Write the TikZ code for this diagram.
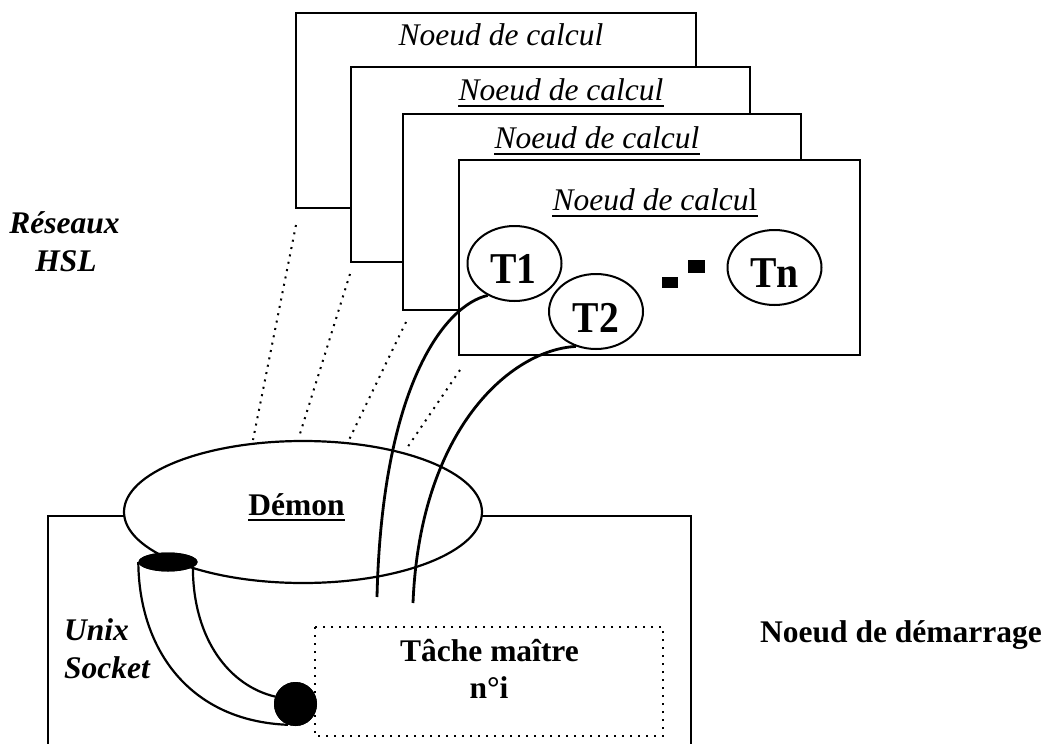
\documentclass[tikz,border=0pt]{standalone}
\usepackage{fontspec}
\setmainfont{Liberation Serif}
\newfontfamily\taskfont[FakeStretch=0.9]{Liberation Serif}
\usetikzlibrary{shapes.geometric}
\begin{document}
\begin{tikzpicture}[x=1pt,y=-1pt,
  frame/.style={draw,line width=2.3pt,fill=white,rectangle,anchor=north west,inner sep=0pt},
  calcfont/.style={anchor=base,inner sep=0pt,font=\fontsize{31.5}{38}\selectfont\itshape},
  lbl/.style={anchor=base,inner sep=0pt,font=\fontsize{31.5}{38}\selectfont\bfseries},
  lblit/.style={anchor=base,inner sep=0pt,font=\fontsize{31.5}{38}\selectfont\bfseries\itshape},
  task/.style={ellipse,draw,line width=2pt,minimum width=94pt,minimum height=75pt,inner sep=0pt,fill=white},
  tasklbl/.style={anchor=base,inner sep=0pt,font=\taskfont\fontsize{44}{48}\selectfont\bfseries},
  ul/.style={line width=2pt},
  hsl/.style={line width=2pt,dash pattern=on 2pt off 5.5pt},
  wire/.style={line width=2.8pt},
  tube/.style={line width=2.2pt},
]
\useasboundingbox[fill=white] (0,0) rectangle (1050,744);

% stacked compute nodes, back to front
\node[frame,minimum width=400pt,minimum height=195pt] (b1) at (295,12) {};
\node[calcfont] (c1) at (501,45) {Noeud de calcul};
\node[frame,minimum width=399pt,minimum height=195pt] (b2) at (350,66) {};
\node[calcfont] (c2) at (561,100) {Noeud de calcul};
\node[frame,minimum width=398pt,minimum height=196pt] (b3) at (402,113) {};
\node[calcfont] (c3) at (597,148) {Noeud de calcul};
\node[frame,minimum width=401pt,minimum height=195pt] (b4) at (458,159) {};
\node[calcfont] (c4) at (655,210) {Noeud de calcu\upshape l};
\foreach \n in {c2,c3,c4}
  \draw[ul] ([yshift=-6pt]\n.base west) -- ([yshift=-6pt]\n.base east);

% tasks of the front node
\node[task] (t1) at (514.5,263.5) {};
\node[tasklbl] (t1l) at (513.5,283) {T1};
\node[task] (t2) at (596,311.5) {};
\node[tasklbl] (t2l) at (596,332) {T2};
\node[task] (tn) at (774.5,267.5) {};
\node[tasklbl] (tnl) at (774.5,287) {Tn};
\fill (662,277) rectangle (678,288);
\fill (688,260) rectangle (705,273);

% HSL network links
\coordinate (h1a) at (296,225); \coordinate (h1b) at (253,440);
\coordinate (h2a) at (350,274); \coordinate (h2b) at (299,437);
\coordinate (h3a) at (406,322); \coordinate (h3b) at (348,442);
\coordinate (h4a) at (460,370); \coordinate (h4b) at (407,448);
\draw[hsl] (h1a) -- (h1b);
\draw[hsl] (h2a) -- (h2b);
\draw[hsl] (h3a) -- (h3b);
\draw[hsl] (h4a) -- (h4b);

% start node frame (open at the bottom)
\draw[line width=2.3pt] (48,744) -- (48,516) -- (691,516) -- (691,744);

% daemon
\node[ellipse,draw,line width=2.2pt,fill=white,minimum width=358pt,minimum height=142pt,inner sep=0pt] (demon) at (303,512) {};
\node[lbl] (demonl) at (296.5,515) {Démon};
\draw[ul] ([yshift=-5pt]demonl.base west) -- ([yshift=-5pt]demonl.base east);

% master task
\draw[line width=1.8pt,dash pattern=on 2pt off 6pt] (315,627) rectangle (663,736);
\node[lbl] (m1) at (489.5,661) {Tâche maître};
\node[lbl] (m2) at (489,698) {n°i};

% unix socket tube
\node[ellipse,fill=black,minimum width=59pt,minimum height=19pt,inner sep=0pt] (sockTop) at (168,562) {};
\node[ellipse,fill=black,minimum width=43pt,minimum height=44pt,inner sep=0pt] (sockBot) at (295.5,704) {};
\draw[tube] (sockTop.west) .. controls (139,650) and (190,721) .. (sockBot.250);
\draw[tube] (sockTop.-12) .. controls (193,640) and (230,686) .. (sockBot.160);
\node[ellipse,fill=black,minimum width=59pt,minimum height=19pt,inner sep=0pt] at (sockTop) {};
\node[ellipse,fill=black,minimum width=43pt,minimum height=44pt,inner sep=0pt] at (sockBot) {};

% task wires down to the start node
\coordinate (w1) at (377,597);
\coordinate (w2) at (413,603);
\draw[wire] (t1.230) .. controls (445,305) and (382,385) .. (w1);
\draw[wire] (t2.240) .. controls (510,350) and (420,430) .. (w2);

% labels
\node[lblit] (res1) at (64.5,233) {Réseaux};
\node[lblit] (res2) at (66,271) {HSL};
\node[lblit,anchor=base west] (ux1) at (64,640) {Unix};
\node[lblit,anchor=base west] (ux2) at (64,678) {Socket};
\node[lbl,anchor=base west] (start) at (760,642) {Noeud de démarrage};
\end{tikzpicture}
\end{document}
